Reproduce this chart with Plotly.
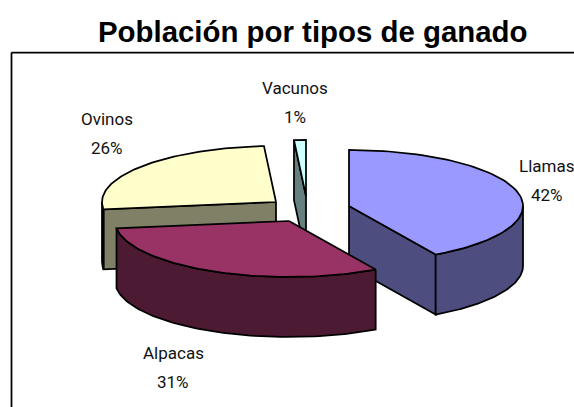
import numpy as np
import plotly.graph_objects as go

categories = ["Llamas", "Alpacas", "Ovinos", "Vacunos"]
values = [41.7, 31.2, 26.0, 1.1]
top_colors = ["#9999FF", "#993366", "#FFFFCC", "#CCFFFF"]
side_colors = ["#4D4D80", "#4D1A33", "#808066", "#668080"]
title_text = "Población por tipos de ganado"

# Projection of the exploded 3D pie on a 574x407 pixel canvas
centers = {"Llamas": (349, 206), "Alpacas": (289, 221), "Ovinos": (276, 202), "Vacunos": (306, 196)}
RX, RY, DEPTH = 174, 56, 60
draw_order = ["Vacunos", "Ovinos", "Llamas", "Alpacas"]
label_pos = {"Llamas": (546.5, 166), "Alpacas": (173, 353), "Ovinos": (107, 119), "Vacunos": (295, 88)}
LINE_GAP = 29

total = sum(values)
spans = {}
acc = 0.0
for c, v in zip(categories, values):
    spans[c] = (acc / total * 2 * np.pi, (acc + v) / total * 2 * np.pi)
    acc += v

fig = go.Figure()


def poly(xs, ys, color, width=1.75):
    fig.add_trace(go.Scatter(x=list(xs) + [xs[0]], y=list(ys) + [ys[0]], mode="lines", fill="toself",
                             fillcolor=color, line=dict(color="black", width=width), hoverinfo="skip",
                             showlegend=False))


def rim(c, t0, t1, n=80):
    cx, cy = centers[c]
    t = np.linspace(t0, t1, n)
    return cx + RX * np.sin(t), cy - RY * np.cos(t)


for c in draw_order:
    i = categories.index(c)
    t0, t1 = spans[c]
    cx, cy = centers[c]
    side, top = side_colors[i], top_colors[i]
    # cut faces: only those turned toward the viewer
    for t, visible in ((t0, np.sin(t0) < -1e-9), (t1, np.sin(t1) > 1e-9)):
        if visible:
            x, y = rim(c, t, t, 1)
            poly([cx, x[0], x[0], cx], [cy, y[0], y[0] + DEPTH, cy + DEPTH], side)
    # outer wall (only the part facing the viewer)
    a, b = max(t0, np.pi / 2), min(t1, 3 * np.pi / 2)
    if a < b:
        x, y = rim(c, a, b)
        poly(np.r_[x, x[::-1]], np.r_[y, y[::-1] + DEPTH], side)
    # top face
    x, y = rim(c, t0, t1)
    poly(np.r_[cx, x], np.r_[cy, y], top)

annotations = []
for c, v in zip(categories, values):
    lx, ly = label_pos[c]
    for k, txt in enumerate((c, f"{v / total:.0%}")):
        annotations.append(dict(x=lx, y=ly + k * LINE_GAP, text=txt, showarrow=False, xanchor="center",
                                yanchor="middle", font=dict(family="Roboto", size=17, color="#111111")))
annotations.append(dict(x=312, y=31, text=f"<b>{title_text}</b>", showarrow=False, xanchor="center",
                        yanchor="middle", font=dict(family="Liberation Sans", size=29.4, color="black")))

fig.update_layout(
    width=574, height=407, margin=dict(l=0, r=0, t=0, b=0), paper_bgcolor="white", plot_bgcolor="white",
    xaxis=dict(range=[0, 574], visible=False, fixedrange=True),
    yaxis=dict(range=[407, 0], visible=False, fixedrange=True),
    annotations=annotations,
    shapes=[dict(type="line", x0=11.5, x1=574, y0=52.5, y1=52.5, line=dict(color="black", width=1.75)),
            dict(type="line", x0=11.5, x1=11.5, y0=52.5, y1=407, line=dict(color="black", width=1.75))],
)
fig.write_html("out.html", config={"displayModeBar": False},
               post_script="document.body.style.margin='0';document.body.style.overflow='hidden';")
